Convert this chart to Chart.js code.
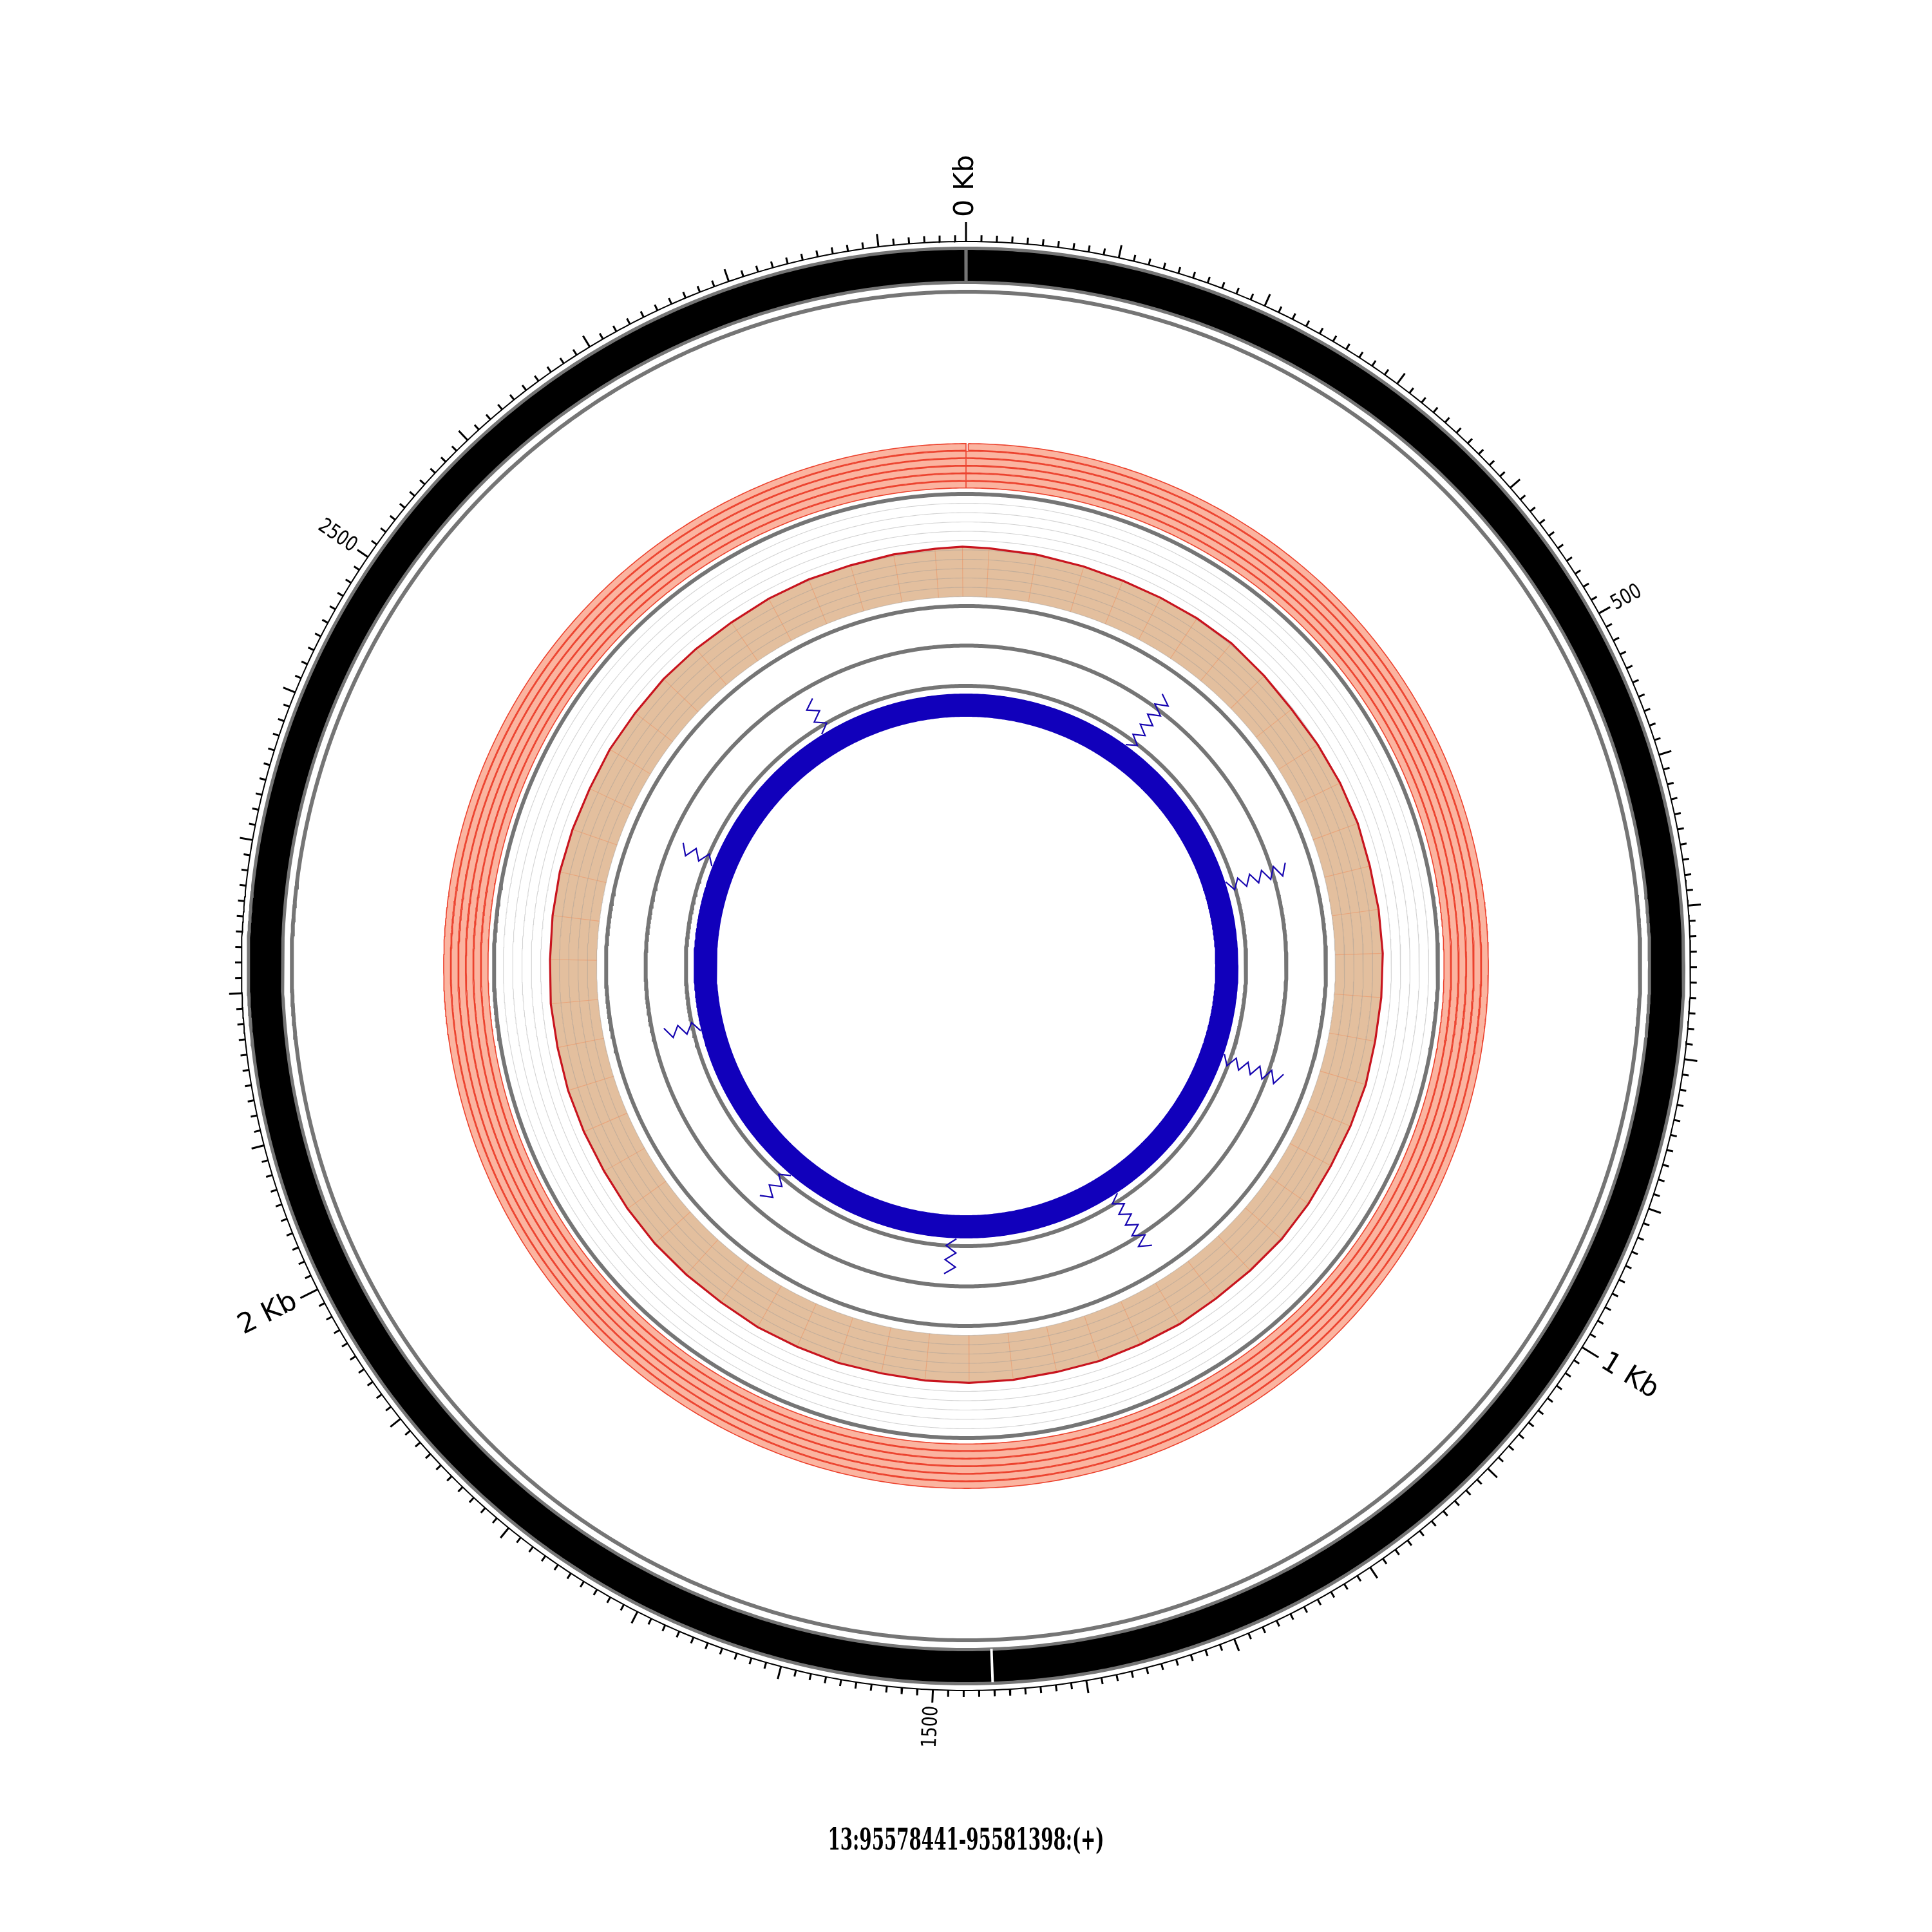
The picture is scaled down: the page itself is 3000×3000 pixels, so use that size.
<!DOCTYPE html>
<html>
<head>
<meta charset="utf-8">
<title>13:95578441-95581398:(+)</title>
<script src="https://cdn.jsdelivr.net/npm/chart.js@4.4.1/dist/chart.umd.min.js"></script>
<style>
  html, body { margin: 0; padding: 0; background: #ffffff; }
  canvas { display: block; }
</style>
</head>
<body>
<canvas id="circosChart" width="3000" height="3000"></canvas>
<script>
const regionLabel = "13:95578441-95581398:(+)";
const regionLength = 2957;

// ideogram blocks (bp)
const ideogramBlocks = [[0, 1461], [1461, 2957]];

// tick labels
const kbTicks = [0, 1000, 2000];
const kbTickLabels = ["0 Kb", "1 Kb", "2 Kb"];
const bpTicks = [500, 1500, 2500];
const bpTickLabels = ["500", "1500", "2500"];

// peak tiles, outermost track first
const peakTracks = [
  [[2, 2957]],
  [[0, 2957]],
  [[0, 2957]],
  [[0, 2957]],
  [[0, 2957]],
  [[0, 2957]],
];

// coverage histogram
const coveragePos = [26, 80, 135, 182, 229, 276, 324, 376, 425, 475, 525, 575, 625, 675, 725, 775, 825, 875, 925, 975,
  1025, 1075, 1125, 1175, 1225, 1275, 1325, 1375, 1425, 1475, 1525, 1575, 1625, 1675, 1725, 1775, 1825, 1875, 1925, 1975,
  2025, 2075, 2125, 2175, 2225, 2275, 2325, 2375, 2425, 2475, 2525, 2575, 2625, 2675, 2725, 2775, 2825, 2875, 2922, 2953];
const coverageVal = [6.25, 6.15, 6.05, 6.0, 6.05, 6.15, 6.2, 6.0, 5.85, 5.95, 6.05, 6.1, 6.0, 6.05, 6.1, 6.05, 6.0, 6.1, 6.05, 6.0,
  6.1, 6.15, 6.05, 6.0, 6.1, 6.05, 6.1, 6.0, 6.05, 6.1, 6.05, 6.0, 6.1, 6.05, 6.1, 6.0, 6.05, 6.1, 6.05, 6.0,
  6.05, 6.1, 6.05, 6.1, 6.0, 6.05, 6.1, 6.05, 6.0, 6.1, 6.05, 6.1, 6.05, 6.0, 6.1, 6.15, 6.1, 6.2, 6.25, 6.35];
const coverageBase = 1;
const coverageMax = 12;

// circular transcript and binding sites
const circleTrack = [[0, 2957]];
const sitePos = [294, 592, 894, 1202, 1495, 1806, 2105, 2394, 2695];
const siteLevel = [2, 2, 2, 2, 1, 1, 1, 1, 1];

// ---- geometry & style ----
const R = {
  tickBase: 1125,
  ideoOut: 1112, ideoIn: 1064, ideoBorder: 5,
  outerLine: 1047,
  peakOut: 811.7, peakIn: 741.7,
  histOut: 733, histIn: 559,
  ring2: 497.5, ring3: 435,
  blueOut: 423, blueIn: 387,
  siteStart: 424,
};
const GRAY = "#757575";

const toXY = (bp, r) => {
  const a = (bp / regionLength) * 2 * Math.PI;
  return { x: r * Math.sin(a), y: r * Math.cos(a) };
};
const GAP = { x: null, y: null };

const arcPoints = (start, end, r) => {
  const n = Math.max(2, Math.ceil((Math.abs(end - start) / regionLength) * 900));
  const pts = [];
  for (let i = 0; i <= n; i++) pts.push(toXY(start + ((end - start) * i) / n, r));
  return pts;
};

const bandShape = (start, end, rIn, rOut) => {
  const pts = [...arcPoints(start, end, rOut), ...arcPoints(end, start, rIn)];
  pts.push(pts[0]);
  return pts;
};

const histR = (v) => R.histIn + ((R.histOut - R.histIn) * v) / coverageMax;

const datasets = [];
const addLayer = (data, opts) => {
  datasets.push({
    data,
    showLine: true,
    pointRadius: 0,
    pointHoverRadius: 0,
    borderWidth: 0,
    borderColor: "transparent",
    backgroundColor: "transparent",
    fill: false,
    spanGaps: false,
    tension: 0,
    ...opts,
  });
};

// ideogram
addLayer(bandShape(0, regionLength, R.ideoIn - R.ideoBorder, R.ideoOut + R.ideoBorder), { fill: "shape", backgroundColor: GRAY });
const blockData = [];
ideogramBlocks.forEach(([s, e]) => {
  const s2 = s === 0 ? s + 1.1 : s;
  const e2 = e === regionLength ? e - 1.1 : e;
  blockData.push(...bandShape(s2, e2, R.ideoIn, R.ideoOut), GAP);
});
addLayer(blockData, { fill: "shape", backgroundColor: "#000000" });
addLayer([toXY(ideogramBlocks[1][0], R.ideoIn - 3), toXY(ideogramBlocks[1][0], R.ideoOut + 1)], { borderColor: "#ffffff", borderWidth: 4 });

addLayer(arcPoints(0, regionLength + 2, R.outerLine), { borderColor: GRAY, borderWidth: 6 });

// ticks
addLayer(arcPoints(0, regionLength + 2, R.tickBase), { borderColor: "#000000", borderWidth: 2 });
const tickData = [];
for (let bp = 0; bp < regionLength; bp += 10) {
  const len = bp % 1000 === 0 ? 30 : bp % 100 === 0 ? 20 : 10;
  tickData.push(toXY(bp, R.tickBase), toXY(bp, R.tickBase + len), GAP);
}
addLayer(tickData, { borderColor: "#000000", borderWidth: 3 });

// peak tiles
const pitch = (R.peakOut - R.peakIn) / peakTracks.length;
peakTracks.forEach((tiles, i) => {
  const rOut = R.peakOut - i * pitch;
  const data = [];
  tiles.forEach(([s, e]) => data.push(...bandShape(s, e, rOut - pitch + 0.6, rOut - 0.6), GAP));
  addLayer(data, { fill: "shape", backgroundColor: "rgb(251,180,160)", borderColor: "rgb(236,66,46)", borderWidth: 1.6 });
});

addLayer(arcPoints(0, regionLength + 2, R.histOut), { borderColor: GRAY, borderWidth: 6 });

// coverage histogram
const outline = coveragePos.map((p, i) => toXY(p, histR(coverageVal[i])));
outline.push(outline[0]);
const histShape = [...outline, ...arcPoints(coveragePos[0] + regionLength, coveragePos[0], histR(coverageBase))];
histShape.push(histShape[0]);
addLayer(histShape, { fill: "shape", backgroundColor: "rgb(227,191,158)" });

const spokes = [];
coveragePos.forEach((p, i) => spokes.push(toXY(p, histR(coverageBase)), toXY(p, histR(coverageVal[i])), GAP));
addLayer(spokes, { borderColor: "rgba(240,140,90,0.5)", borderWidth: 1.1 });

const gridData = [];
for (let v = 1; v < coverageMax; v++) gridData.push(...arcPoints(0, regionLength + 2, histR(v)), GAP);
addLayer(gridData, { borderColor: "rgba(150,150,150,0.42)", borderWidth: 1.1 });

addLayer(outline, { borderColor: "rgb(200,20,30)", borderWidth: 3.2 });

addLayer(arcPoints(0, regionLength + 2, R.histIn), { borderColor: GRAY, borderWidth: 6 });
addLayer(arcPoints(0, regionLength + 2, R.ring2), { borderColor: GRAY, borderWidth: 6 });
addLayer(arcPoints(0, regionLength + 2, R.ring3), { borderColor: GRAY, borderWidth: 6 });

// circular transcript
const blueData = [];
circleTrack.forEach(([s, e]) => blueData.push(...bandShape(s, e, R.blueIn, R.blueOut), GAP));
addLayer(blueData, { fill: "shape", backgroundColor: "#1100bb" });

// binding sites
const siteData = [];
sitePos.forEach((p, i) => {
  const steps = siteLevel[i] === 2 ? 10 : 5;
  const stepR = siteLevel[i] === 2 ? 9.7 : 11;
  for (let k = 0; k <= steps; k++) siteData.push(toXY(p + (k % 2 ? 17 : 0), R.siteStart + k * stepR));
  siteData.push(GAP);
});
addLayer(siteData, { borderColor: "#1605b0", borderWidth: 2.2 });

datasets.forEach((d, i) => (d.order = datasets.length - i));

const drawText = (ctx, text, px, py, rot, align, font, sx) => {
  ctx.save();
  ctx.translate(px, py);
  ctx.rotate(rot);
  ctx.scale(sx, 1);
  ctx.font = font;
  ctx.fillStyle = "#000000";
  ctx.textAlign = align;
  ctx.textBaseline = "middle";
  ctx.fillText(text, 0, 0);
  ctx.restore();
};

const labelPlugin = {
  id: "circosLabels",
  afterDraw(chart) {
    const { ctx, scales: { x, y } } = chart;
    const place = (bp, r, text, font, sx) => {
      const p = toXY(bp, r);
      const a = (bp / regionLength) * 2 * Math.PI;
      const flip = a >= Math.PI;
      drawText(ctx, text, x.getPixelForValue(p.x), y.getPixelForValue(p.y),
        flip ? a + Math.PI / 2 : a - Math.PI / 2, flip ? "right" : "left", font, sx);
    };
    kbTicks.forEach((bp, i) => place(bp, R.tickBase + 38, kbTickLabels[i], '43px "DejaVu Sans"', 1));
    bpTicks.forEach((bp, i) => place(bp, R.tickBase + 25, bpTickLabels[i], '32px "DejaVu Sans"', 0.8));

    ctx.save();
    ctx.font = 'bold 46px "DejaVu Serif Condensed", "DejaVu Serif", serif';
    const w = ctx.measureText(regionLabel).width;
    ctx.translate(x.getPixelForValue(0), y.getPixelForValue(-1372));
    ctx.scale(429 / w, 1);
    ctx.fillStyle = "#000000";
    ctx.textAlign = "center";
    ctx.textBaseline = "alphabetic";
    ctx.fillText(regionLabel, 0, 0);
    ctx.restore();
  },
};

const ctx = document.getElementById("circosChart").getContext("2d");
const circosChart = new Chart(ctx, {
  type: "scatter",
  data: { datasets },
  options: {
    responsive: false,
    maintainAspectRatio: false,
    animation: false,
    devicePixelRatio: 1,
    events: [],
    layout: { padding: 0 },
    scales: {
      x: { type: "linear", min: -1500, max: 1500, display: false },
      y: { type: "linear", min: -1500, max: 1500, display: false },
    },
    plugins: {
      legend: { display: false },
      tooltip: { enabled: false },
      title: { display: false },
    },
  },
  plugins: [labelPlugin],
});
</script>
</body>
</html>
